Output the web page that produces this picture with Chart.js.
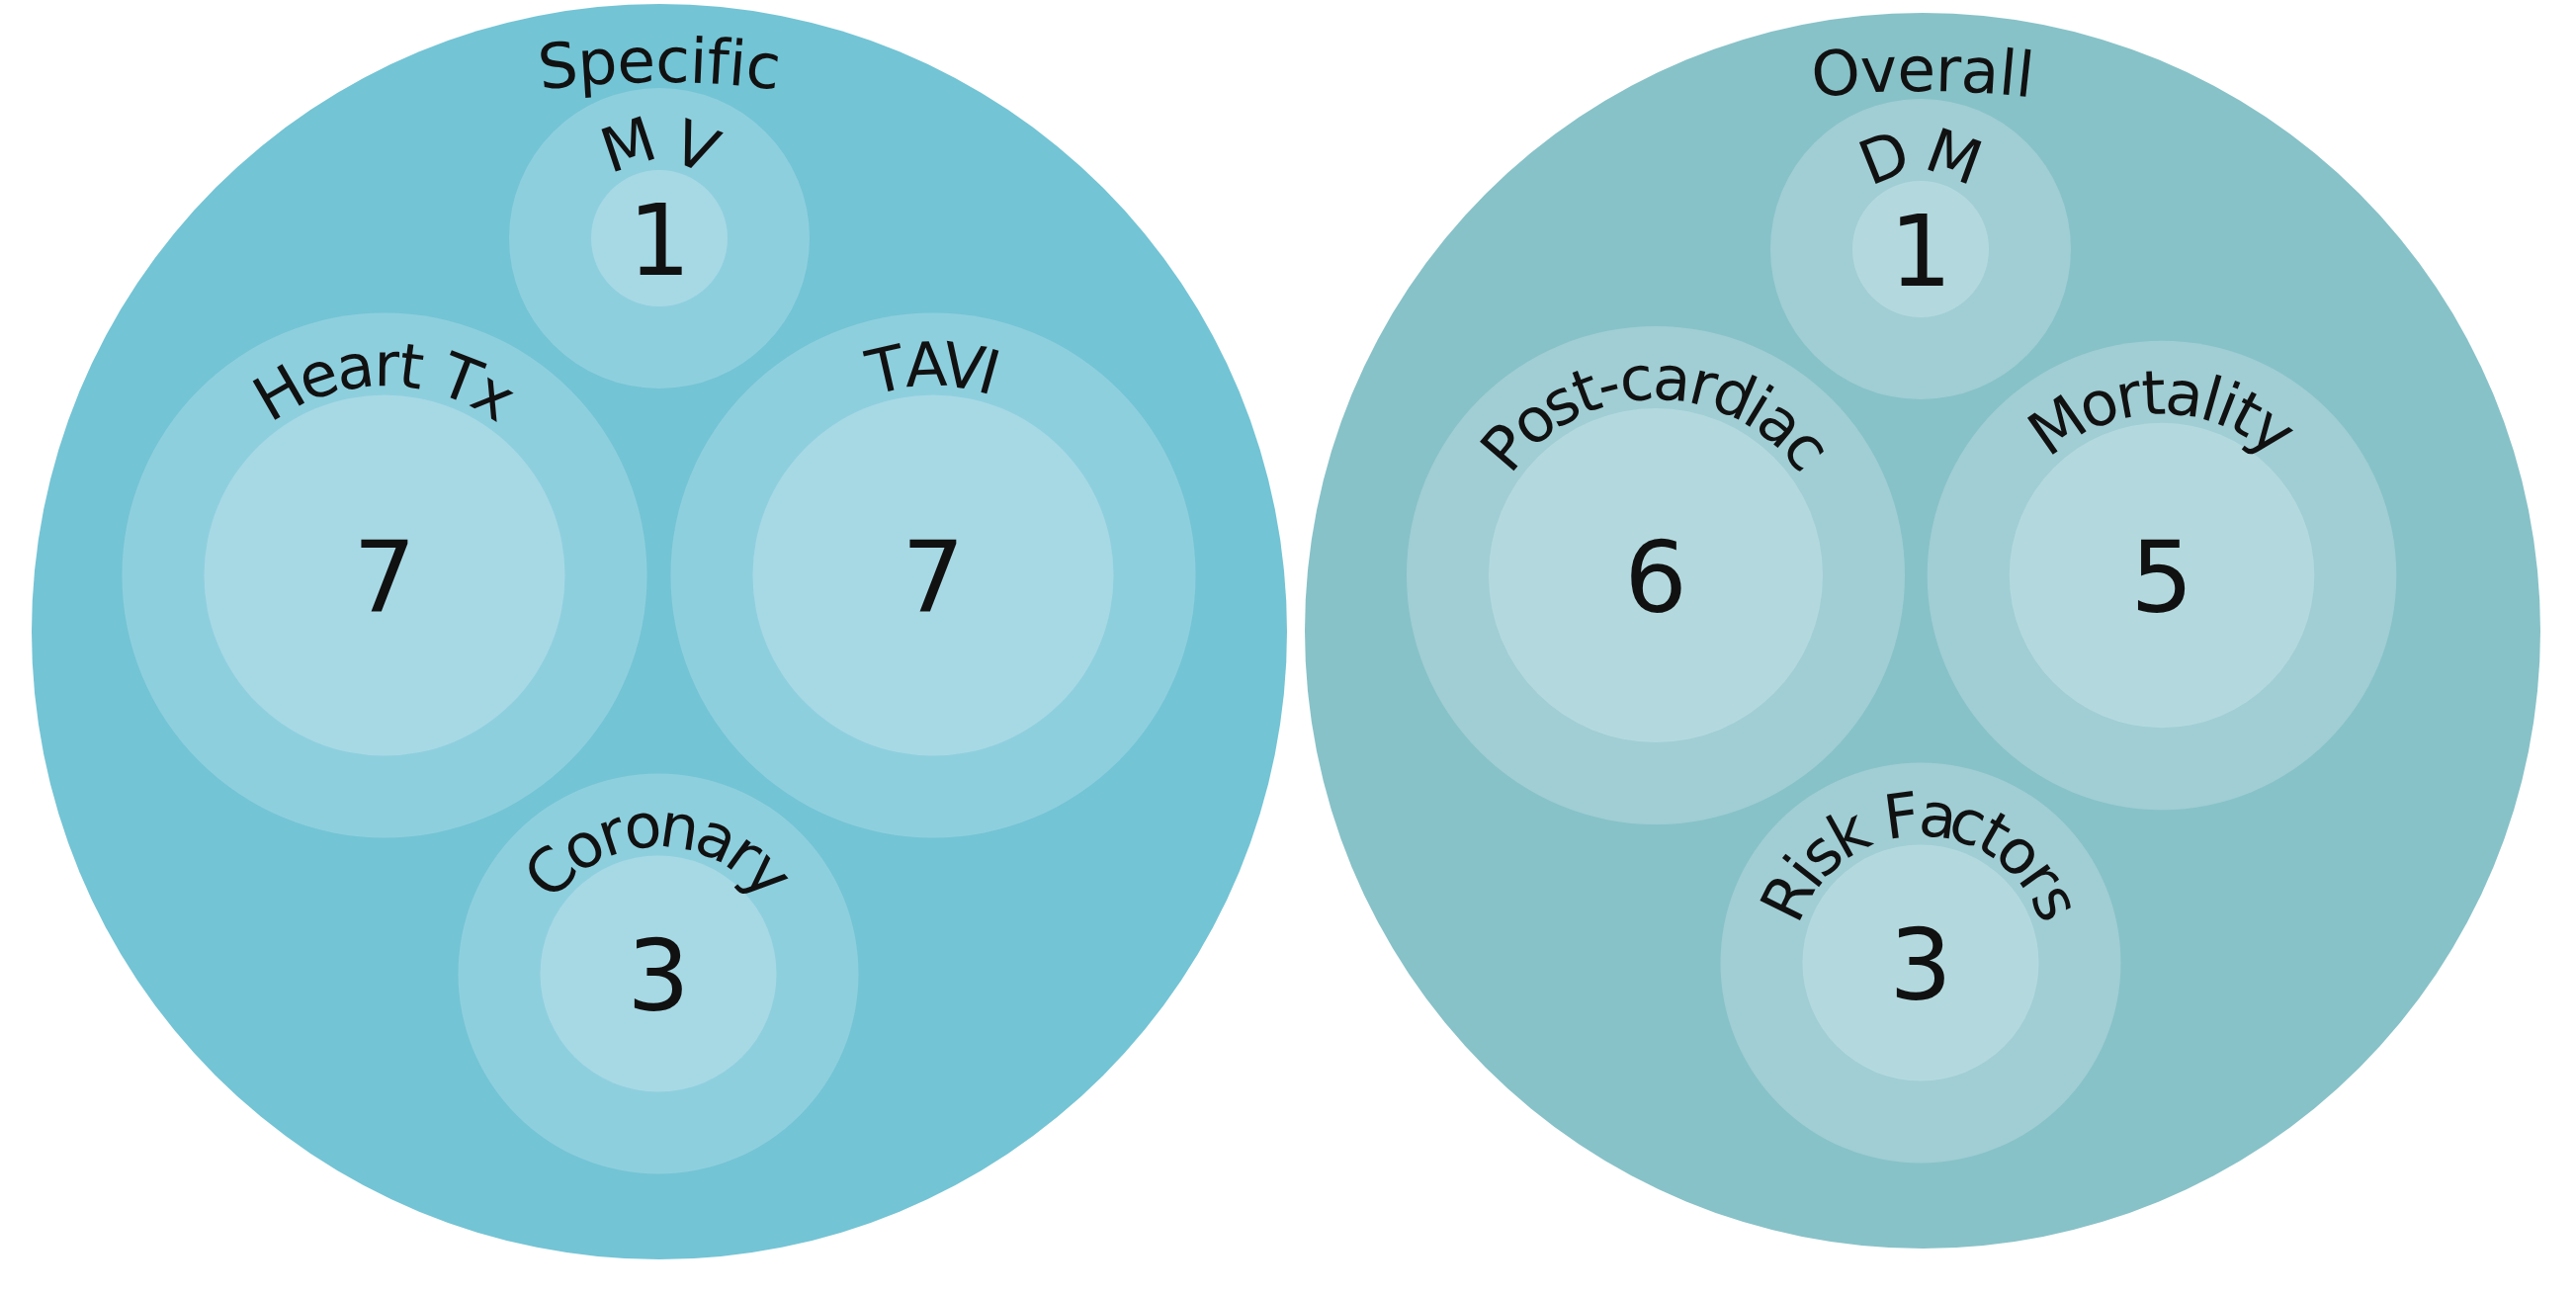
<!DOCTYPE html>
<html>
<head>
<meta charset="utf-8">
<title>Specific / Overall</title>
<script src="https://cdn.jsdelivr.net/npm/chart.js@4.4.1/dist/chart.umd.min.js"></script>
<style>
    html, body { margin: 0; padding: 0; background: #ffffff; }
    #wrap { width: 2606px; height: 1310px; position: relative; }
</style>
</head>
<body>
<div id="wrap"><canvas id="bubbles"></canvas></div>
<script>
// --- Data ---
const groupNames = ["Specific", "Overall"];
const specificLabels = ["M V", "Heart Tx", "TAVI", "Coronary"];
const specificValues = [1, 7, 7, 3];
const overallLabels = ["D M", "Post-cardiac", "Mortality", "Risk Factors"];
const overallValues = [1, 6, 5, 3];

// --- Layout (chart units, 1 unit = 1 px) ---
const groupCenters = [[667, 639], [1945, 638]];
const groupRadius = [635, 625];
const specificCenters = [[667, 241], [389, 582], [944, 582], [666, 985]];
const overallCenters = [[1943, 252], [1675, 582], [2187, 582], [1943, 974]];
const sizePerSqrt = 69;   // inner radius = 69 * sqrt(value)
const ringWidth = 83;

const colors = {
    left:  { big: "#73C4D5", ring: "#8ECFDE", inner: "#A7D9E5" },
    right: { big: "#87C2C8", ring: "#A0CED4", inner: "#B3D9DE" }
};

const innerR = v => sizePerSqrt * Math.sqrt(v);

function points(centers, values, extra) {
    return centers.map((c, i) => ({ x: c[0], y: c[1], r: innerR(values[i]) + extra }));
}

const innerData = points(specificCenters, specificValues, 0).concat(points(overallCenters, overallValues, 0));
const ringData = points(specificCenters, specificValues, ringWidth).concat(points(overallCenters, overallValues, ringWidth));
const bigData = groupCenters.map((c, i) => ({ x: c[0], y: c[1], r: groupRadius[i] }));

const allLabels = specificLabels.concat(overallLabels);
const allValues = specificValues.concat(overallValues);
const sideOf = i => (i < specificLabels.length ? "left" : "right");

function drawArcText(ctx, text, cx, cy, baseR, fontSize) {
    // letters sit on baseR, advance measured a bit further out
    const advR = baseR + fontSize * 0.3;
    const total = ctx.measureText(text).width;
    const start = -Math.PI / 2 - total / (2 * advR);
    for (let i = 0; i < text.length; i++) {
        const ch = text[i];
        if (ch === " ") continue;
        const before = ctx.measureText(text.slice(0, i)).width;
        const w = ctx.measureText(ch).width;
        const a = start + (before + w / 2) / advR;
        ctx.save();
        ctx.translate(cx + baseR * Math.cos(a), cy + baseR * Math.sin(a));
        ctx.rotate(a + Math.PI / 2);
        ctx.fillText(ch, 0, 0);
        ctx.restore();
    }
}

const labelPlugin = {
    id: "bubbleLabels",
    afterDatasetsDraw(chart) {
        const ctx = chart.ctx;
        const inner = chart.getDatasetMeta(0).data;
        const big = chart.getDatasetMeta(2).data;
        ctx.save();
        ctx.fillStyle = "#111111";
        ctx.textAlign = "center";
        ctx.textBaseline = "alphabetic";

        // group titles, gently curved along the top of each big circle
        ctx.font = "63px 'DejaVu Sans'";
        big.forEach((el, i) => {
            const r = el.options.radius;
            const arcR = r * 1.5;
            const topY = el.y - r + 79;
            drawArcText(ctx, groupNames[i], el.x, topY + arcR, arcR, 63);
        });

        inner.forEach((el, i) => {
            const r = el.options.radius;
            ctx.font = "62px 'DejaVu Sans'";
            drawArcText(ctx, allLabels[i], el.x, el.y, r + 9, 62);
            ctx.font = "100px 'DejaVu Sans'";
            ctx.fillText(String(allValues[i]), el.x, el.y + 37);
        });
        ctx.restore();
    }
};

const ctx = document.getElementById("bubbles").getContext("2d");
new Chart(ctx, {
    type: "bubble",
    data: {
        datasets: [
            {
                label: "inner",
                data: innerData,
                backgroundColor: innerData.map((_, i) => colors[sideOf(i)].inner),
                borderWidth: 0,
                order: 1
            },
            {
                label: "ring",
                data: ringData,
                backgroundColor: ringData.map((_, i) => colors[sideOf(i)].ring),
                borderWidth: 0,
                order: 2
            },
            {
                label: "group",
                data: bigData,
                backgroundColor: [colors.left.big, colors.right.big],
                borderWidth: 0,
                order: 3
            }
        ]
    },
    options: {
        responsive: true,
        maintainAspectRatio: false,
        animation: false,
        events: [],
        clip: false,
        layout: { padding: 0, autoPadding: false },
        plugins: {
            legend: { display: false },
            tooltip: { enabled: false }
        },
        scales: {
            x: { type: "linear", min: 0, max: 2606, display: false },
            y: { type: "linear", min: 0, max: 1310, reverse: true, display: false }
        }
    },
    plugins: [labelPlugin]
});
</script>
</body>
</html>
